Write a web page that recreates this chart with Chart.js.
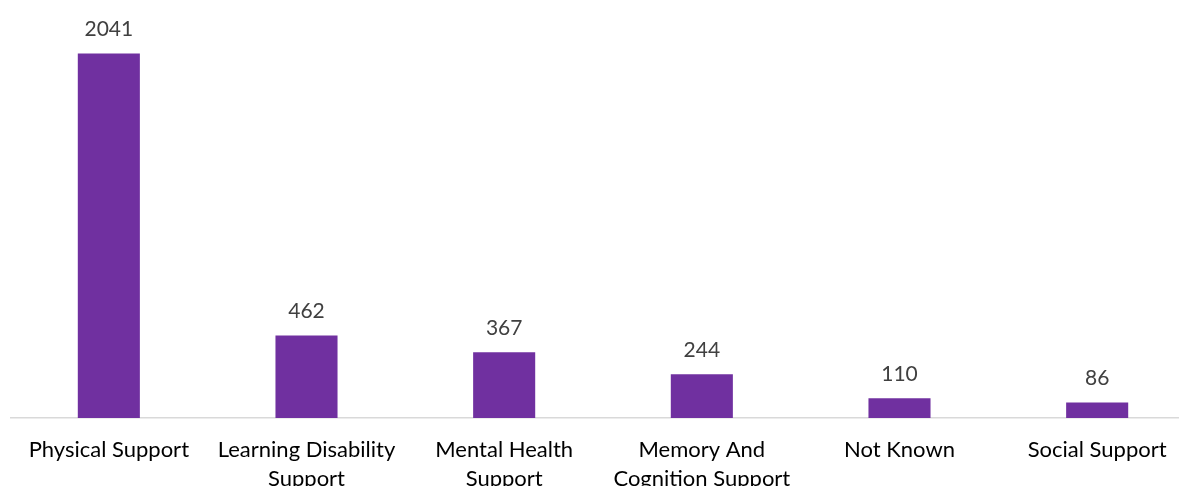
<!DOCTYPE html>
<html>
<head>
<meta charset="utf-8">
<script src="https://cdn.jsdelivr.net/npm/chart.js@4"></script>
<style>
  html, body { margin: 0; padding: 0; background: #fff; overflow: hidden; }
  #wrap { position: absolute; left: 10px; top: 0; width: 1186px; height: 510px; }
</style>
</head>
<body>
<div id="wrap"><canvas id="chart"></canvas></div>
<script>
const CATEGORIES = [
    ['Physical Support'],
    ['Learning Disability', 'Support'],
    ['Mental Health', 'Support'],
    ['Memory And', 'Cognition Support'],
    ['Not Known'],
    ['Social Support']
];
const VALUES = [2041, 462, 367, 244, 110, 86];
const Y_MAX = 2340;

// ===== VALUE LABELS =====
const valueLabels = {
    id: 'valueLabels',
    afterDatasetsDraw(chart) {
        const ctx = chart.ctx;
        const meta = chart.getDatasetMeta(0);
        ctx.save();
        ctx.font = '21px Lato, "Open Sans", sans-serif';
        ctx.fillStyle = '#404040';
        ctx.textAlign = 'center';
        ctx.textBaseline = 'bottom';
        meta.data.forEach((bar, i) => {
            ctx.fillText(String(VALUES[i]), bar.x, bar.y - 14);
        });
        ctx.restore();
    }
};

new Chart(document.getElementById('chart'), {
    type: 'bar',
    data: {
        labels: CATEGORIES,
        datasets: [{
            data: VALUES,
            backgroundColor: '#7030A0',
            barPercentage: 0.314,
            categoryPercentage: 1
        }]
    },
    options: {
        animation: false,
        responsive: true,
        maintainAspectRatio: false,
        layout: { padding: 0 },
        plugins: {
            legend: { display: false },
            tooltip: { enabled: false }
        },
        scales: {
            x: {
                grid: { display: false, drawTicks: false },
                border: { color: '#d9d9d9', width: 1.5 },
                ticks: {
                    color: '#000',
                    padding: 17,
                    maxRotation: 0,
                    autoSkip: false,
                    font: { family: 'Lato, "Open Sans", sans-serif', size: 22, lineHeight: 1.32 }
                }
            },
            y: {
                display: false,
                min: 0,
                max: Y_MAX
            }
        }
    },
    plugins: [valueLabels]
});
</script>
</body>
</html>
